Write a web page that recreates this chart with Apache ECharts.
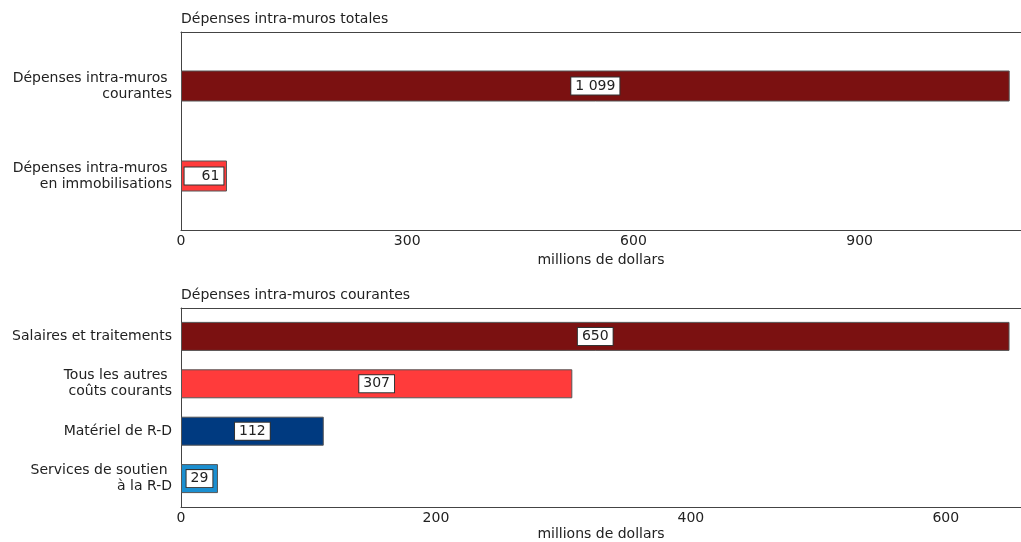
<!DOCTYPE html>
<html>
<head>
<meta charset="utf-8">
<script src="https://cdn.jsdelivr.net/npm/echarts@6/dist/echarts.min.js"></script>
<style>
  html, body { margin: 0; padding: 0; background: #fff; }
  #chart { width: 1021px; height: 542px; }
</style>
</head>
<body>
<div id="chart"></div>
<script>
// Panel 1: total intramural spending
const totalTitle = 'Dépenses intra-muros totales';
const totalCats = ['Dépenses intra-muros \ncourantes', 'Dépenses intra-muros \nen immobilisations'];
const totalValues = [1099, 61];
const totalColors = ['#7b1111', '#ff3b3b'];
const totalTicks = [0, 300, 600, 900];

// Panel 2: current intramural spending by type
const currentTitle = 'Dépenses intra-muros courantes';
const currentCats = ['Salaires et traitements', 'Tous les autres \ncoûts courants', 'Matériel de R-D', 'Services de soutien \nà la R-D'];
const currentValues = [650, 307, 112, 29];
const currentColors = ['#7b1111', '#ff3b3b', '#003a80', '#1b8fd0'];
const currentTicks = [0, 200, 400, 600];

const axisName = 'millions de dollars';

const FONT = 'DejaVu Sans';
const FS = 14;
const TXT = '#222';
const LINE = '#444';

const fmt = v => String(v).replace(/\B(?=(\d{3})+(?!\d))/g, ' ');

const topMax = 1114;
const botMax = 659;

function frameAxis(gridIndex, position, max, interval, showLabels, nameGap) {
  return {
    type: 'value', gridIndex, position, min: 0, max, interval,
    axisLine: { show: true, lineStyle: { color: LINE, width: 1 } },
    axisTick: { show: false },
    splitLine: { show: false },
    axisLabel: showLabels ? {
      show: true, margin: 4, fontFamily: FONT, fontSize: FS, color: TXT,
      showMaxLabel: false,
      formatter: v => fmt(v)
    } : { show: false },
    name: showLabels ? axisName : '',
    nameLocation: 'middle', nameGap: nameGap || 20,
    nameTextStyle: { fontFamily: FONT, fontSize: FS, color: TXT }
  };
}

function hiddenX(gridIndex, max) {
  return { type: 'value', gridIndex, min: 0, max, show: false, splitLine: { show: false } };
}

function catAxis(gridIndex, cats) {
  return {
    type: 'category', gridIndex, data: cats, inverse: true,
    axisLine: { show: false }, axisTick: { show: false }, splitLine: { show: false },
    axisLabel: { margin: 9, fontFamily: FONT, fontSize: FS, color: TXT, lineHeight: 16, align: 'right' }
  };
}

function frameY(gridIndex) {
  return {
    type: 'value', gridIndex, min: 0, max: 1, position: 'left',
    axisLine: { show: true, lineStyle: { color: LINE, width: 1 } },
    axisTick: { show: false }, axisLabel: { show: false }, splitLine: { show: false }
  };
}

const labelBase = {
  show: true, position: 'inside', fontFamily: FONT, fontSize: FS, color: TXT,
  backgroundColor: '#fff', borderColor: '#333', borderWidth: 1, padding: [2, 4, 1, 4],
  formatter: p => fmt(p.value)
};

function barData(values, colors) {
  return values.map((v, i) => ({
    value: v,
    itemStyle: { color: colors[i], borderColor: '#555', borderWidth: 1 }
  }));
}

const topData = barData(totalValues, totalColors);
// the short bar carries a wider label box, with the number pushed right
topData[1].label = { padding: [2, 4, 1, 17] };

const titleStyle = { fontFamily: FONT, fontSize: FS, fontWeight: 'normal', color: TXT };

const chart = echarts.init(document.getElementById('chart'), null, { renderer: 'canvas' });
chart.setOption({
  animation: false,
  title: [
    { text: totalTitle, left: 181, top: 12, padding: 0, textStyle: titleStyle },
    { text: currentTitle, left: 181, top: 288, padding: 0, textStyle: titleStyle }
  ],
  grid: [
    { left: 181, right: 0, top: 32, height: 198 },
    { left: 181, right: 0, top: 41, height: 180 },
    { left: 181, right: 0, top: 308, height: 199 },
    { left: 181, right: 0, top: 312.7, height: 189.6 }
  ],
  xAxis: [
    frameAxis(0, 'bottom', topMax, 300, true, 23),
    frameAxis(0, 'top', topMax, 300, false),
    hiddenX(1, topMax),
    frameAxis(2, 'bottom', botMax, 200, true, 20),
    frameAxis(2, 'top', botMax, 200, false),
    hiddenX(3, botMax)
  ],
  yAxis: [
    frameY(0),
    catAxis(1, totalCats),
    frameY(2),
    catAxis(3, currentCats)
  ],
  series: [
    {
      type: 'bar', xAxisIndex: 2, yAxisIndex: 1, barWidth: 31,
      data: topData, label: labelBase
    },
    {
      type: 'bar', xAxisIndex: 5, yAxisIndex: 3, barWidth: 29,
      data: barData(currentValues, currentColors), label: labelBase
    }
  ]
});
</script>
</body>
</html>
